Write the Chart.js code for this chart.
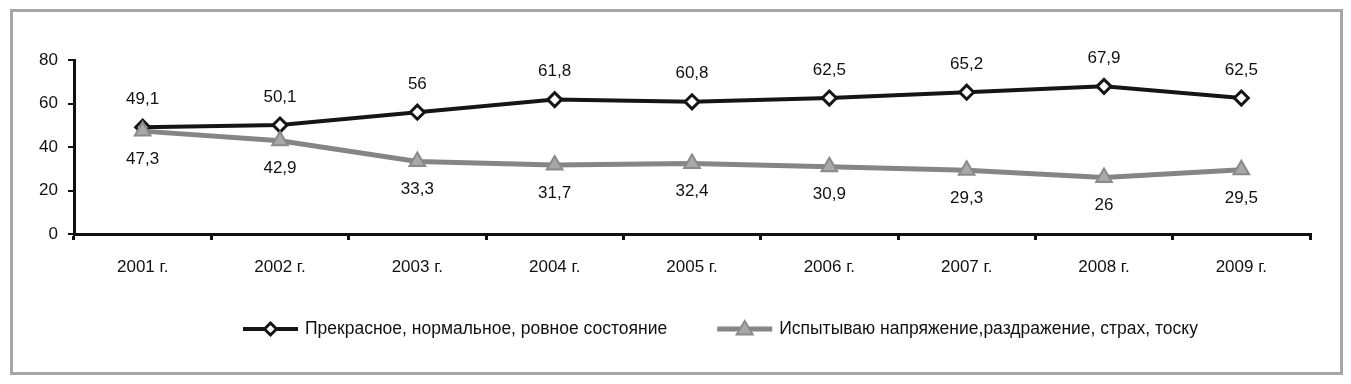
<!DOCTYPE html>
<html>
<head>
<meta charset="utf-8">
<script src="https://cdn.jsdelivr.net/npm/chart.js@4.4.0/dist/chart.umd.min.js"></script>
<style>
  body { margin: 0; background: #fff; }
  .wrap { position: relative; width: 1351px; height: 384px; }
  .frame { position: absolute; left: 10px; top: 9px; width: 1327px; height: 360px; border: 3px solid #a6a6a6; pointer-events: none; }
  canvas { position: absolute; left: 0; top: 0; }
</style>
</head>
<body>
<div class="wrap">
  <canvas id="graph" width="1351" height="384"></canvas>
  <div class="frame"></div>
</div>
<script>
const years = ['2001 г.', '2002 г.', '2003 г.', '2004 г.', '2005 г.', '2006 г.', '2007 г.', '2008 г.', '2009 г.']
const normalState = [49.1, 50.1, 56, 61.8, 60.8, 62.5, 65.2, 67.9, 62.5]
const stressState = [47.3, 42.9, 33.3, 31.7, 32.4, 30.9, 29.3, 26, 29.5]
const seriesNames = ['Прекрасное, нормальное, ровное состояние', 'Испытываю напряжение,раздражение, страх, тоску']
const yTicks = [0, 20, 40, 60, 80]

const FONT = '"Liberation Sans", Arial, sans-serif'

// value labels: first series above the point, second below
const valueLabels = {
  id: 'valueLabels',
  afterDatasetsDraw(chart) {
    const ctx = chart.ctx
    ctx.save()
    ctx.font = '17px ' + FONT
    ctx.fillStyle = '#111'
    ctx.textAlign = 'center'
    ctx.textBaseline = 'middle'
    chart.data.datasets.forEach((ds, i) => {
      const meta = chart.getDatasetMeta(i)
      meta.data.forEach((pt, j) => {
        const txt = String(ds.data[j]).replace('.', ',')
        const dy = i === 0 ? -28 : 28
        ctx.fillText(txt, pt.x, pt.y + dy)
      })
    })
    ctx.restore()
  }
}

// legend with line + marker, like the office chart
const lineLegend = {
  id: 'lineLegend',
  afterDraw(chart) {
    const ctx = chart.ctx
    const y = 329
    let x = 243
    ctx.save()
    ctx.font = '17.5px ' + FONT
    ctx.textBaseline = 'middle'
    chart.data.datasets.forEach((ds, i) => {
      ctx.strokeStyle = ds.borderColor
      ctx.lineWidth = ds.borderWidth
      ctx.beginPath()
      ctx.moveTo(x, y)
      ctx.lineTo(x + 55, y)
      ctx.stroke()
      const mx = x + 27.5
      ctx.lineWidth = ds.pointBorderWidth
      ctx.strokeStyle = ds.pointBorderColor
      ctx.fillStyle = ds.pointBackgroundColor
      ctx.beginPath()
      if (ds.pointStyle === 'rectRot') {
        const r = 6
        ctx.moveTo(mx, y - r); ctx.lineTo(mx + r, y); ctx.lineTo(mx, y + r); ctx.lineTo(mx - r, y)
      } else {
        const r = 8
        ctx.moveTo(mx, y - r); ctx.lineTo(mx + r, y + r * 0.7); ctx.lineTo(mx - r, y + r * 0.7)
      }
      ctx.closePath()
      ctx.fill()
      ctx.stroke()
      ctx.fillStyle = '#111'
      ctx.fillText(ds.label, x + 62, y)
      x += 62 + ctx.measureText(ds.label).width + 50
    })
    ctx.restore()
  }
}

new Chart(document.getElementById('graph').getContext('2d'), {
  type: 'line',
  data: {
    labels: years,
    datasets: [
      {
        label: seriesNames[0],
        data: normalState,
        borderColor: '#151515',
        borderWidth: 4,
        pointStyle: 'rectRot',
        pointRadius: 7,
        pointBackgroundColor: '#ffffff',
        pointBorderColor: '#151515',
        pointBorderWidth: 3,
        order: 1,
        tension: 0
      },
      {
        label: seriesNames[1],
        data: stressState,
        borderColor: '#858585',
        borderWidth: 5,
        pointStyle: 'triangle',
        pointRadius: 9,
        pointBackgroundColor: '#a8a8a8',
        pointBorderColor: '#8a8a8a',
        pointBorderWidth: 2,
        order: 0,
        tension: 0
      }
    ]
  },
  options: {
    responsive: false,
    animation: false,
    layout: { padding: { left: 0, top: 60, right: 41, bottom: 100 } },
    plugins: {
      legend: { display: false },
      tooltip: { enabled: false }
    },
    scales: {
      x: {
        offset: true,
        grid: { offset: true, drawOnChartArea: false, drawTicks: true, tickLength: 6, color: '#111', lineWidth: 3 },
        border: { color: '#111', width: 3 },
        ticks: { color: '#111', font: { family: FONT, size: 17 }, padding: 17, maxRotation: 0 },
        afterFit(scale) { scale.height = 50 }
      },
      y: {
        min: 0,
        max: 80,
        afterBuildTicks(scale) { scale.ticks = yTicks.map(v => ({ value: v })) },
        grid: { drawOnChartArea: false, drawTicks: true, tickLength: 6, color: '#111', lineWidth: 2 },
        border: { color: '#111', width: 3 },
        ticks: { color: '#111', font: { family: FONT, size: 17 }, padding: 10 },
        afterFit(scale) { scale.width = 74 }
      }
    }
  },
  plugins: [valueLabels, lineLegend]
})
</script>
</body>
</html>
